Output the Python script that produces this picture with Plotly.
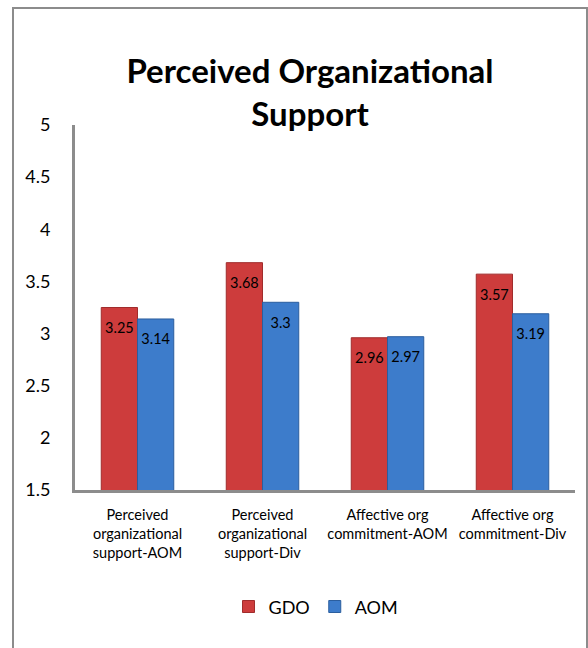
import plotly.graph_objects as go

categories = [
    "Perceived<br>organizational<br>support-AOM",
    "Perceived<br>organizational<br>support-Div",
    "Affective org<br>commitment-AOM",
    "Affective org<br>commitment-Div",
]
gdo_values = [3.25, 3.68, 2.96, 3.57]
aom_values = [3.14, 3.3, 2.97, 3.19]
y_ticks = [1.5, 2, 2.5, 3, 3.5, 4, 4.5, 5]
y_tick_labels = ["1.5", "2", "2.5", "3", "3.5", "4", "4.5", "5"]

FONT = "Lato, Open Sans, sans-serif"
LABEL_DROP = 0.21  # data labels sit just under each bar top
GAP = 0.42

fig = go.Figure()
fig.add_trace(go.Bar(
    name="GDO", x=categories, y=gdo_values, offsetgroup="1",
    marker=dict(color="#CD3C3C", line=dict(color="#A02C2C", width=1)),
))
fig.add_trace(go.Bar(
    name="AOM", x=categories, y=aom_values, offsetgroup="2",
    marker=dict(color="#3D7CCB", line=dict(color="#2B5E9E", width=1)),
))
for vals, grp in ((gdo_values, "1"), (aom_values, "2")):
    fig.add_trace(go.Scatter(
        x=categories, y=[v - LABEL_DROP for v in vals], offsetgroup=grp,
        mode="text", text=[f"{v:g}" for v in vals], textposition="middle center",
        textfont=dict(color="black", size=14.5, family=FONT),
        showlegend=False, hoverinfo="skip",
    ))

W, H = 588, 648
fig.update_layout(
    width=W, height=H,
    paper_bgcolor="white", plot_bgcolor="white",
    margin=dict(l=75, r=13, t=125, b=158),
    barmode="group", bargap=GAP, bargroupgap=0,
    scattermode="group", scattergap=GAP,
    font=dict(family=FONT, color="black"),
    title=dict(
        text="<b>Perceived Organizational<br>Support</b>",
        x=310 / W, xanchor="center", y=1 - 83 / H, yanchor="top", yref="container",
        font=dict(size=33, family=FONT, color="black"),
    ),
    legend=dict(
        orientation="h", x=0.482, xanchor="center", y=-0.32, yanchor="middle",
        font=dict(size=18, family=FONT), itemwidth=30, traceorder="normal",
    ),
    showlegend=True,
)
fig.update_yaxes(
    range=[1.5, 5], tickvals=y_ticks, ticktext=y_tick_labels,
    showgrid=False, zeroline=False, showline=True, linecolor="#8C8C8C", linewidth=3,
    ticks="", ticklabelstandoff=18, tickfont=dict(size=18, family=FONT),
)
fig.update_xaxes(
    showgrid=False, showline=True, linecolor="#8C8C8C", linewidth=3,
    ticks="", ticklabelstandoff=10, tickfont=dict(size=14.5, family=FONT), tickangle=0,
)
# chart frame (open at the bottom, as in the source image)
fig.add_shape(type="rect", xref="paper", yref="paper",
              x0=(13 - 75) / 500, x1=(587 - 75) / 500,
              y0=-(700 - 490) / 365, y1=(490 - 8) / 365,
              line=dict(color="#8C8C8C", width=2), fillcolor="rgba(0,0,0,0)", layer="below")

fig.write_html("out.html", config={"displayModeBar": False},
               post_script="document.body.style.margin='0';")
